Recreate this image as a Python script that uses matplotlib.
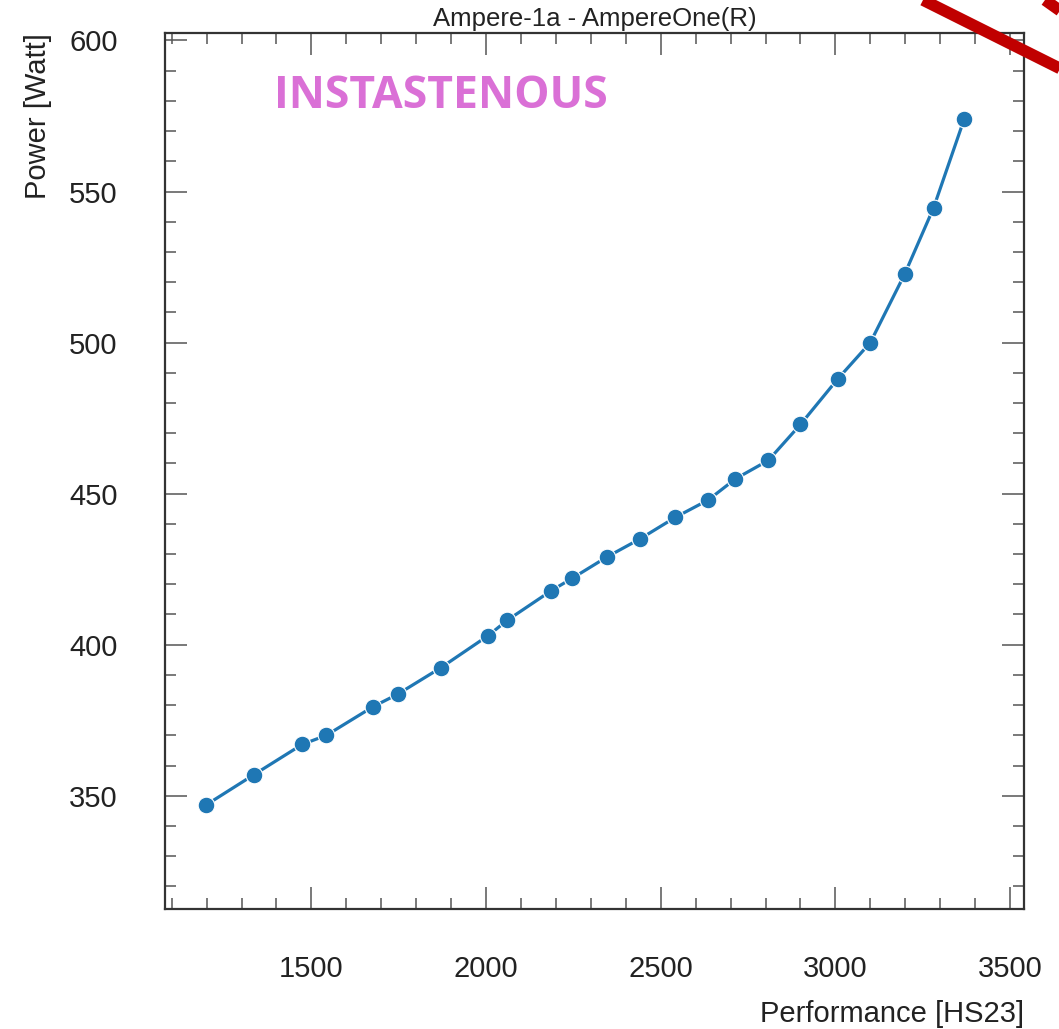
#!/usr/bin/env python3
"""Power vs performance curve - Ampere-1a (AmpereOne)."""

import matplotlib
matplotlib.use("Agg")
import matplotlib.pyplot as plt
from matplotlib.lines import Line2D
from matplotlib.ticker import MultipleLocator

# ------------------------- DATA -------------------------------------------- #
perf_hs23 = [1198, 1336, 1474, 1543, 1677, 1747, 1871, 2006, 2061, 2187,
             2247, 2347, 2442, 2541, 2636, 2714, 2808, 2900, 3007, 3100,
             3198, 3281, 3369]
power_watt = [346.9, 357.0, 367.0, 370.0, 379.5, 383.6, 392.4, 403.0, 408.1,
              417.9, 422.0, 429.1, 435.1, 442.1, 447.9, 454.9, 461.0, 472.9,
              488.0, 500.0, 522.6, 544.6, 574.1]

TITLE = "Ampere-1a - AmpereOne(R)"
NOTE = "INSTASTENOUS"

plt.rcParams["font.family"] = ["Liberation Sans", "DejaVu Sans"]

# ------------------------- FIGURE ------------------------------------------ #
fig = plt.figure(figsize=(10.59, 10.29), dpi=100)
ax = fig.add_axes([0.1558, 0.1166, 0.967 - 0.1558, 0.968 - 0.1166])

ax.plot(perf_hs23, power_watt, color="#1f77b4", lw=2.3, marker="o",
        ms=12, mec="white", mew=0.8, zorder=3)

ax.set_xlim(1081, 3540)
ax.set_ylim(312.5, 602.5)
ax.xaxis.set_major_locator(MultipleLocator(500))
ax.xaxis.set_minor_locator(MultipleLocator(100))
ax.yaxis.set_major_locator(MultipleLocator(50))
ax.yaxis.set_minor_locator(MultipleLocator(10))

ax.tick_params(which="both", direction="in", top=True, right=True,
               color="#555555", width=1.1, labelsize=21, labelcolor="#222222")
ax.tick_params(which="major", length=16)
ax.tick_params(which="minor", length=8)
ax.tick_params(axis="x", which="major", pad=33)
ax.tick_params(axis="y", which="major", pad=34)
for sp in ax.spines.values():
    sp.set_color("#333333")
    sp.set_linewidth(1.6)

ax.set_title(TITLE, fontsize=18.5, color="#222222", pad=5)
ax.set_xlabel("Performance [HS23]", fontsize=21, color="#222222",
              loc="right", labelpad=12)
ax.set_ylabel("Power [Watt]", fontsize=21, color="#222222",
              loc="top", labelpad=12)

ax.text(0.127, 0.927, NOTE, transform=ax.transAxes, ha="left", va="center",
        fontsize=32, fontweight="bold", color="#DA70D6",
        family=["Open Sans", "DejaVu Sans"])

# red strokes in the top-right corner (slide decoration)
for x0, y0, x1, y1 in [(923, 0, 1120, 98.5), (1045, 0, 1100, 39)]:
    fig.add_artist(Line2D([x0 / 1059, x1 / 1059],
                          [1 - y0 / 1029, 1 - y1 / 1029],
                          transform=fig.transFigure, color="#C00000",
                          lw=8.4, solid_capstyle="butt"))

fig.savefig("out.png", dpi=100)
